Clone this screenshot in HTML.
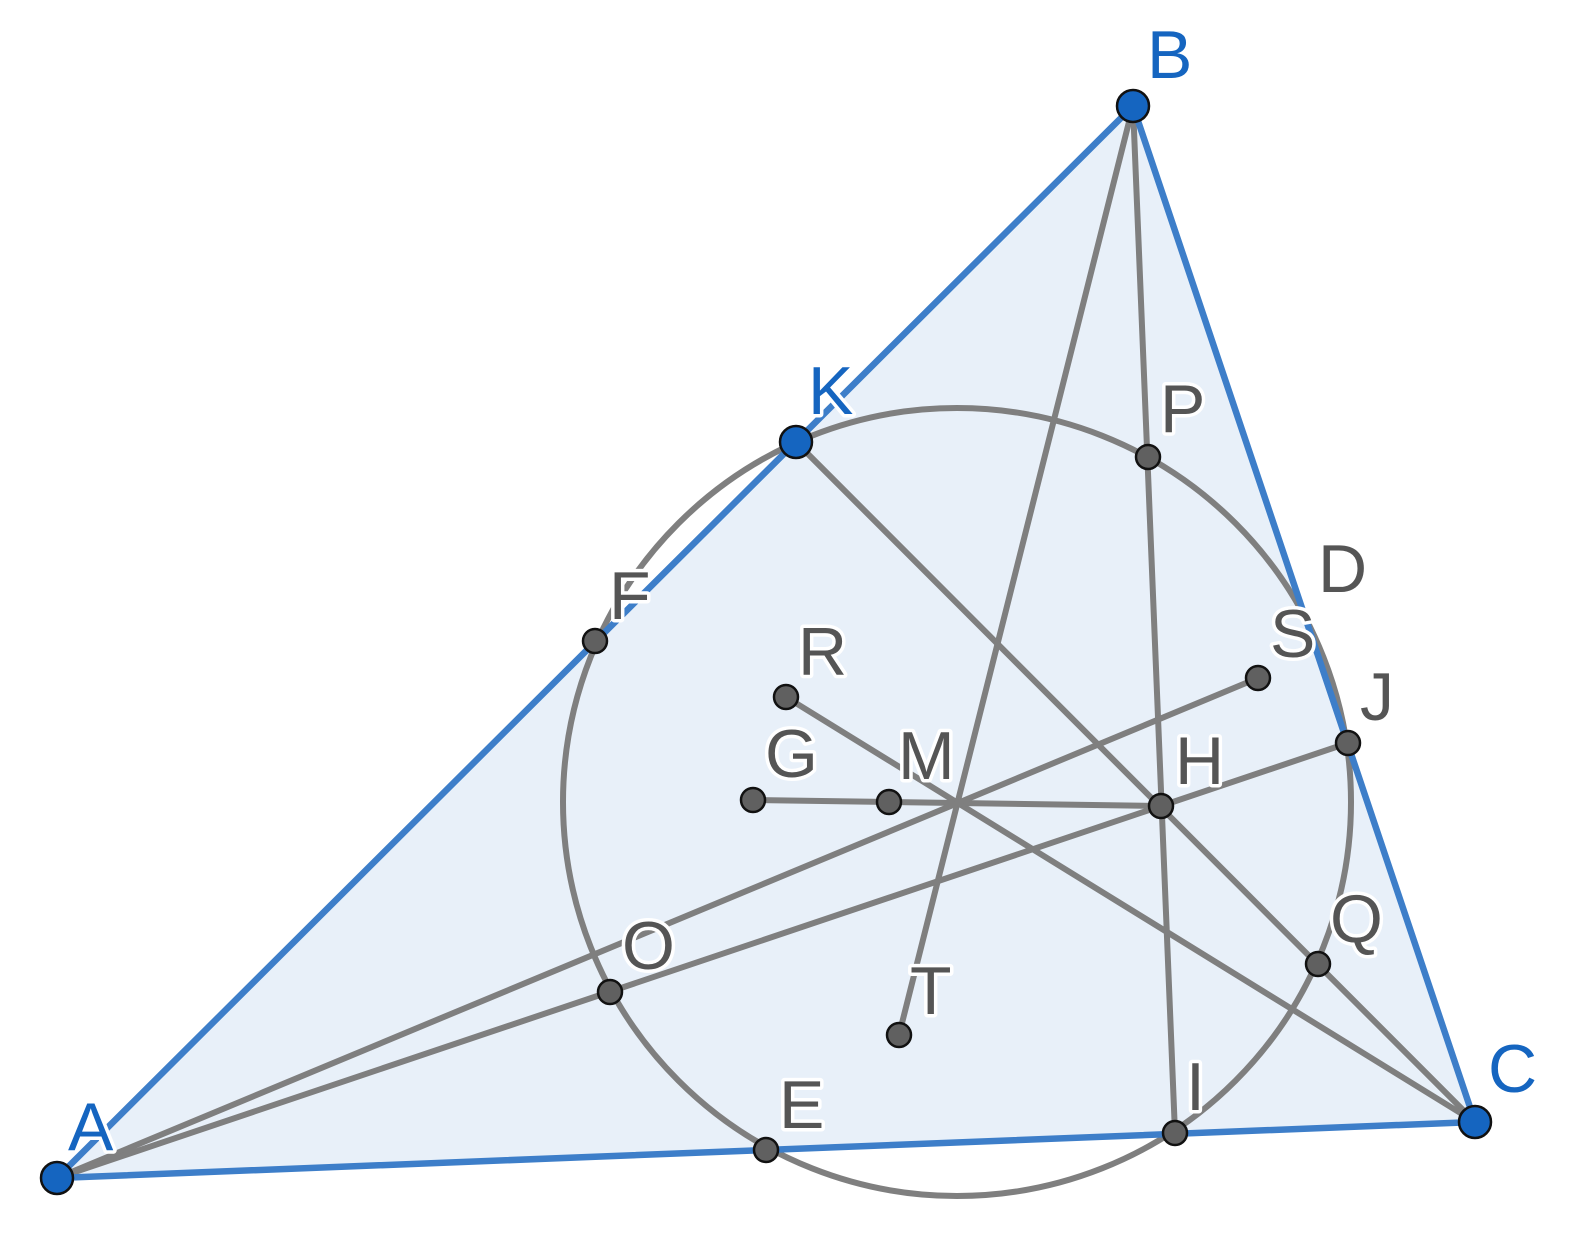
<!DOCTYPE html>
<html><head><meta charset="utf-8"><style>
html,body{margin:0;padding:0;background:#fff;overflow:hidden;}
svg{display:block;}
text{font-family:"Liberation Sans",sans-serif;font-size:68px;paint-order:stroke;stroke:#fff;stroke-width:7px;stroke-linejoin:round;}
.b{fill:#1565c0;}
.g{fill:#555;}
</style></head><body>
<svg width="1582" height="1236" viewBox="0 0 1582 1236" xmlns="http://www.w3.org/2000/svg">
<polygon points="57,1178 1133,106 1475,1122" fill="#e8f0f9" stroke="none"/>
<circle cx="957" cy="802" r="394" fill="none" stroke="#7f7f7f" stroke-width="6"/>
<g stroke="#7f7f7f" stroke-width="6" stroke-linecap="round">
<line x1="1133" y1="106" x2="899" y2="1035"/>
<line x1="1133" y1="106" x2="1175" y2="1133"/>
<line x1="796" y1="442" x2="1475" y2="1122"/>
<line x1="786" y1="697" x2="1475" y2="1122"/>
<line x1="753" y1="800" x2="1161" y2="806"/>
<line x1="57" y1="1178" x2="1258" y2="678"/>
<line x1="57" y1="1178" x2="1348" y2="743"/>
</g>
<polygon points="57,1178 1133,106 1475,1122" fill="none" stroke="#3d7ec9" stroke-width="6.5" stroke-linejoin="round"/>
<g fill="#606060" stroke="#111" stroke-width="2.5">
<circle cx="1148" cy="457" r="12"/>
<circle cx="595" cy="641" r="12"/>
<circle cx="1258" cy="678" r="12"/>
<circle cx="1348" cy="743" r="12"/>
<circle cx="1161" cy="806" r="12"/>
<circle cx="753" cy="800" r="12"/>
<circle cx="889" cy="802" r="12"/>
<circle cx="786" cy="697" r="12"/>
<circle cx="610" cy="992" r="12"/>
<circle cx="899" cy="1035" r="12"/>
<circle cx="1318" cy="964" r="12"/>
<circle cx="766" cy="1150" r="12"/>
<circle cx="1175" cy="1133" r="12"/>
</g>
<g fill="#1565c0" stroke="#111" stroke-width="2.5">
<circle cx="57" cy="1178" r="16"/>
<circle cx="1133" cy="106" r="16"/>
<circle cx="1475" cy="1122" r="16"/>
<circle cx="796" cy="442" r="16"/>
</g>
<text class="b" x="68" y="1150">A</text>
<text class="b" x="1147" y="78">B</text>
<text class="b" x="1488" y="1092">C</text>
<text class="b" x="808" y="414">K</text>
<text class="g" x="1160" y="432">P</text>
<text class="g" x="609" y="619">F</text>
<text class="g" x="1318" y="592">D</text>
<text class="g" x="1270" y="657">S</text>
<text class="g" x="1360" y="720">J</text>
<text class="g" x="1175" y="784">H</text>
<text class="g" x="765" y="777">G</text>
<text class="g" x="898" y="779">M</text>
<text class="g" x="798" y="675">R</text>
<text class="g" x="622" y="969">O</text>
<text class="g" x="910" y="1014">T</text>
<text class="g" x="1330" y="942">Q</text>
<text class="g" x="779" y="1128">E</text>
<text class="g" x="1186" y="1110">I</text>
</svg>
</body></html>
